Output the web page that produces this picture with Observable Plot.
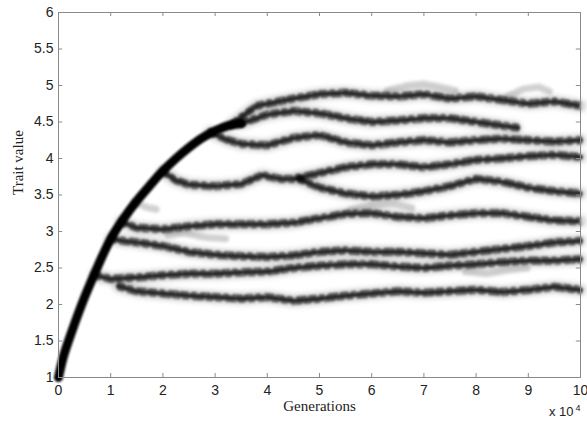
<!DOCTYPE html>
<html>
<head>
<meta charset="utf-8">
<script src="https://cdn.jsdelivr.net/npm/d3@7"></script>
<script src="https://cdn.jsdelivr.net/npm/@observablehq/plot@0.6"></script>
<style>
  html, body { margin: 0; padding: 0; background: #fff; }
</style>
</head>
<body>
<div id="chart"></div>
<script>
// ---- tick values ----
const xTicks = [0, 1, 2, 3, 4, 5, 6, 7, 8, 9, 10];
const yTicks = [1, 1.5, 2, 2.5, 3, 3.5, 4, 4.5, 5, 5.5, 6];

// ---- ancestral trunk (generations in 10^4, trait value) ----
const trunkGen = [0, 0.1, 0.25, 0.5, 0.75, 1.0, 1.25, 1.5, 1.75, 2.0, 2.25, 2.5, 2.75, 3.0, 3.25, 3.5];
const trunkVal = [1, 1.3, 1.62, 2.1, 2.52, 2.9, 3.18, 3.42, 3.63, 3.83, 4.0, 4.15, 4.28, 4.38, 4.45, 4.48];

// ---- branches ----
const branchAGen = [3.3, 3.6, 3.8, 4.0, 4.5, 5.0, 5.5, 6.0, 6.5, 7.0, 7.5, 8.0, 8.5, 9.0, 9.5, 10];
const branchAVal = [4.46, 4.62, 4.72, 4.75, 4.82, 4.88, 4.9, 4.86, 4.85, 4.88, 4.82, 4.85, 4.8, 4.75, 4.78, 4.72];

const branchCGen = [3.5, 4.0, 4.5, 5.0, 5.5, 6.0, 6.5, 7.0, 7.5, 8.0, 8.5, 8.8];
const branchCVal = [4.48, 4.6, 4.65, 4.62, 4.55, 4.5, 4.52, 4.55, 4.55, 4.5, 4.45, 4.42];

const branchDGen = [2.9, 3.25, 3.5, 4.0, 4.5, 5.0, 5.5, 6.0, 6.5, 7.0, 7.5, 8.0, 8.5, 9.0, 9.5, 10];
const branchDVal = [4.36, 4.25, 4.2, 4.18, 4.28, 4.32, 4.22, 4.18, 4.22, 4.25, 4.22, 4.25, 4.27, 4.25, 4.23, 4.25];

const branchFGen = [2.0, 2.25, 2.5, 3.0, 3.5, 3.9, 4.25, 4.5, 5.0, 5.5, 6.0, 6.5, 7.0, 7.5, 8.0, 8.5, 9.0, 9.5, 10];
const branchFVal = [3.82, 3.7, 3.64, 3.62, 3.65, 3.77, 3.72, 3.72, 3.8, 3.88, 3.92, 3.92, 3.88, 3.92, 3.98, 4.0, 4.03, 4.05, 4.02];

const branchGGen = [4.6, 5.0, 5.5, 6.0, 6.5, 7.0, 7.5, 8.0, 8.5, 9.0, 9.5, 10];
const branchGVal = [3.72, 3.6, 3.52, 3.48, 3.5, 3.55, 3.62, 3.72, 3.68, 3.6, 3.55, 3.52];

const branchHGen = [1.2, 1.5, 2.0, 2.5, 3.0, 3.5, 4.0, 4.5, 5.0, 5.5, 6.0, 6.5, 7.0, 7.5, 8.0, 8.5, 9.0, 9.5, 10];
const branchHVal = [3.13, 3.05, 3.03, 3.07, 3.1, 3.1, 3.1, 3.12, 3.18, 3.24, 3.25, 3.2, 3.18, 3.22, 3.25, 3.25, 3.2, 3.15, 3.14];

const branchIGen = [1.0, 1.25, 1.5, 2.0, 2.5, 3.0, 3.5, 4.0, 4.5, 5.0, 5.5, 6.0, 6.5, 7.0, 7.5, 8.0, 8.5, 9.0, 9.5, 10];
const branchIVal = [2.9, 2.87, 2.85, 2.8, 2.72, 2.68, 2.66, 2.65, 2.67, 2.72, 2.74, 2.72, 2.72, 2.7, 2.68, 2.72, 2.76, 2.8, 2.85, 2.87];

const branchJGen = [0.7, 1.0, 1.5, 2.0, 2.5, 3.0, 3.5, 4.0, 4.5, 5.0, 5.5, 6.0, 6.5, 7.0, 7.5, 8.0, 8.5, 9.0, 9.5, 10];
const branchJVal = [2.4, 2.35, 2.37, 2.4, 2.42, 2.42, 2.44, 2.45, 2.5, 2.53, 2.55, 2.55, 2.52, 2.5, 2.53, 2.55, 2.58, 2.6, 2.6, 2.62];

const branchKGen = [1.15, 1.5, 2.0, 2.5, 3.0, 3.5, 4.0, 4.5, 5.0, 5.5, 6.0, 6.5, 7.0, 7.5, 8.0, 8.5, 9.0, 9.5, 10];
const branchKVal = [2.25, 2.18, 2.15, 2.12, 2.1, 2.08, 2.1, 2.05, 2.08, 2.12, 2.15, 2.18, 2.16, 2.18, 2.2, 2.17, 2.2, 2.24, 2.2];

// ---- faint short-lived offshoots ----
const twigAGen = [6.3, 6.7, 7.0, 7.3, 7.6];
const twigAVal = [4.93, 5.0, 5.02, 4.98, 4.93];
const twigBGen = [8.6, 8.9, 9.2, 9.4];
const twigBVal = [4.85, 4.95, 4.98, 4.92];
const twigCGen = [1.45, 1.7, 1.9];
const twigCVal = [3.4, 3.33, 3.3];
const twigDGen = [5.6, 6.0, 6.4, 6.8];
const twigDVal = [3.3, 3.36, 3.38, 3.32];
const twigEGen = [2.1, 2.4, 2.8, 3.2];
const twigEVal = [2.95, 2.98, 2.92, 2.9];
const twigFGen = [7.8, 8.2, 8.6, 9.0];
const twigFVal = [2.45, 2.42, 2.47, 2.5];

// ---- build tables ----
function rows(name, gens, vals) {
  return gens.map((g, i) => ({branch: name, gen: g, value: vals[i]}));
}
const trunkRows = rows("trunk", trunkGen, trunkVal);
const branchRows = [
  ...rows("A", branchAGen, branchAVal),
  ...rows("C", branchCGen, branchCVal),
  ...rows("D", branchDGen, branchDVal),
  ...rows("F", branchFGen, branchFVal),
  ...rows("G", branchGGen, branchGVal),
  ...rows("H", branchHGen, branchHVal),
  ...rows("I", branchIGen, branchIVal),
  ...rows("J", branchJGen, branchJVal),
  ...rows("K", branchKGen, branchKVal)
];
const twigRows = [
  ...rows("tA", twigAGen, twigAVal),
  ...rows("tB", twigBGen, twigBVal),
  ...rows("tC", twigCGen, twigCVal),
  ...rows("tD", twigDGen, twigDVal),
  ...rows("tE", twigEGen, twigEVal),
  ...rows("tF", twigFGen, twigFVal)
];

const gray = "#8a8a8a";
const lineOpts = {x: "gen", y: "value", z: "branch", stroke: "#000"};
const plot = Plot.plot({
  width: 587,
  height: 424,
  marginLeft: 58,
  marginRight: 7,
  marginTop: 12,
  marginBottom: 47,
  x: {domain: [0, 10]},
  y: {domain: [1, 6]},
  style: {fontFamily: "'Liberation Sans', Arial, sans-serif", fontSize: "14px", color: "#222", background: "#fff"},
  marks: [
    // faint offshoots
    Plot.line(twigRows, {...lineOpts, strokeWidth: 7, strokeOpacity: 0.18, strokeDasharray: "7 3 4 2"}),
    // wide gray halo
    Plot.line(branchRows, {...lineOpts, strokeWidth: 12, strokeOpacity: 0.18, strokeDasharray: "9 3 5 4 12 2"}),
    // secondary sub-bands
    Plot.line(branchRows, {...lineOpts, dy: -3, strokeWidth: 3, strokeOpacity: 0.45, strokeDasharray: "6 5 3 6 8 4"}),
    Plot.line(branchRows, {...lineOpts, dy: 3, strokeWidth: 3, strokeOpacity: 0.4, strokeDasharray: "4 6 9 4 5 5"}),
    // mottled dark core
    Plot.line(branchRows, {...lineOpts, strokeWidth: 5, strokeOpacity: 0.78, strokeDasharray: "10 3 4 2 7 4"}),
    // trunk
    Plot.line(trunkRows, {x: "gen", y: "value", stroke: "#000", strokeWidth: 9, curve: "catmull-rom"}),
    Plot.frame({stroke: gray}),
    // inward ticks
    Plot.ruleX(xTicks.slice(1, -1), {x: d => d, y1: 1, y2: 1.055, stroke: gray}),
    Plot.ruleX(xTicks.slice(1, -1), {x: d => d, y1: 5.945, y2: 6, stroke: gray}),
    Plot.ruleY(yTicks.slice(1, -1), {y: d => d, x1: 0, x2: 0.08, stroke: gray}),
    Plot.ruleY(yTicks.slice(1, -1), {y: d => d, x1: 9.92, x2: 10, stroke: gray}),
    Plot.axisX({ticks: xTicks, tickSize: 0, tickPadding: 8, label: null, tickFormat: d => String(d)}),
    Plot.axisY({ticks: yTicks, tickSize: 0, tickPadding: 5, label: null, tickFormat: d => String(d)}),
    Plot.text(["Generations"], {frameAnchor: "bottom", dy: 33, fontFamily: "'Liberation Serif', 'Times New Roman', serif", fontSize: 15, fill: "#222"}),
    Plot.text(["Trait value"], {frameAnchor: "left", dx: -40, rotate: -90, fontFamily: "'Liberation Serif', 'Times New Roman', serif", fontSize: 15, fill: "#222"}),
    Plot.text(["x 10"], {frameAnchor: "bottom-right", textAnchor: "end", dx: -7, dy: 38, fontSize: 13, fill: "#222"}),
    Plot.text(["4"], {frameAnchor: "bottom-right", textAnchor: "start", dx: -5, dy: 33, fontSize: 9, fill: "#222"})
  ]
});

const lines = plot.querySelectorAll('g[aria-label="line"]');
const blurs = ["blur(1.6px)", "blur(2.5px)", "blur(1.2px)", "blur(1.2px)", "blur(1px)", "blur(0.8px)"];
lines.forEach((g, i) => { g.style.filter = blurs[i] || "none"; });

document.getElementById("chart").appendChild(plot);
</script>
</body>
</html>
